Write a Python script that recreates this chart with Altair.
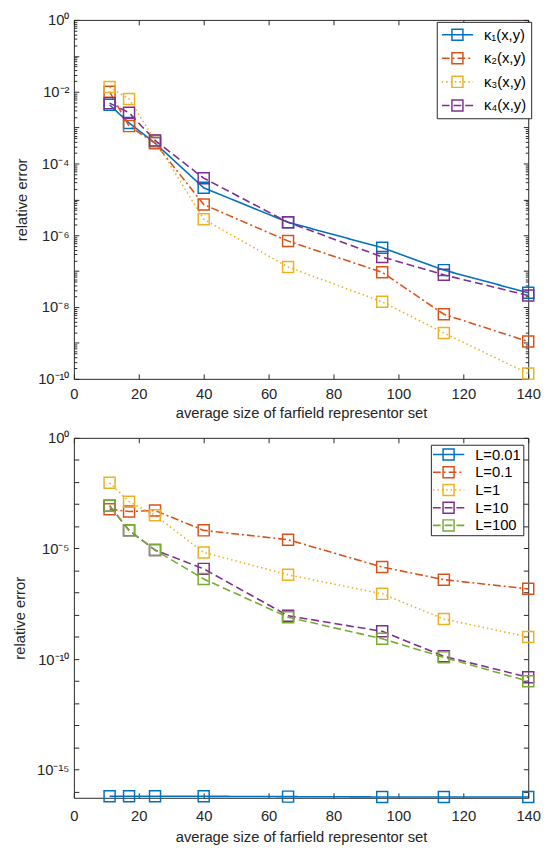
import altair as alt
import pandas as pd

# ---------------- data ----------------
x_vals = [11, 17, 25, 40, 66, 95, 114, 140]

top_names = ["κ₁(x,y)", "κ₂(x,y)", "κ₃(x,y)", "κ₄(x,y)"]
top_k1 = [4.3e-3, 1.35e-3, 3.7e-4, 2.1e-5, 2.3e-6, 4.5e-7, 1.07e-7, 2.5e-8]
top_k2 = [1.0e-2, 1.1e-3, 3.7e-4, 7.2e-6, 6.9e-7, 9.3e-8, 6.3e-9, 1.1e-9]
top_k3 = [1.35e-2, 6.3e-3, 4.4e-4, 2.8e-6, 1.3e-7, 1.4e-8, 1.9e-9, 1.4e-10]
top_k4 = [4.8e-3, 2.6e-3, 4.4e-4, 3.9e-5, 2.3e-6, 2.5e-7, 7.9e-8, 2.1e-8]

bot_names = ["L=0.01", "L=0.1", "L=1", "L=10", "L=100"]
bot_L001 = [6.4e-17, 6.4e-17, 6.3e-17, 6.3e-17, 6.1e-17, 5.9e-17, 5.9e-17, 5.9e-17]
bot_L01 = [6.0e-4, 4.7e-4, 5.2e-4, 6.6e-5, 2.5e-5, 1.45e-6, 3.9e-7, 1.5e-7]
bot_L1 = [9.3e-3, 1.3e-3, 3.2e-4, 6.6e-6, 6.5e-7, 8.9e-8, 6.5e-9, 1.0e-9]
bot_L10 = [8.5e-4, 6.6e-5, 8.5e-6, 1.2e-6, 9.1e-9, 1.8e-9, 1.35e-10, 1.5e-11]
bot_L100 = [8.5e-4, 6.6e-5, 8.5e-6, 4.2e-7, 7.8e-9, 8.3e-10, 1.2e-10, 1.0e-11]

x_ticks = [0, 20, 40, 60, 80, 100, 120, 140]
x_title = "average size of farfield representor set"
y_title = "relative error"

top_major_exp = [0, -1, -2, -3, -4, -5, -6, -7, -8, -9, -10]
top_label_exp = [0, -2, -4, -6, -8, -10]
top_label_txt = ["10⁰", "10⁻²", "10⁻⁴", "10⁻⁶", "10⁻⁸", "10⁻¹⁰"]
top_domain = [1e-10, 1.0]

bot_major_exp = list(range(0, -17, -1))
bot_label_exp = [0, -5, -10, -15]
bot_label_txt = ["10⁰", "10⁻⁵", "10⁻¹⁰", "10⁻¹⁵"]
bot_domain = [5.4e-17, 1.0]

colors = ["#0072BD", "#D95319", "#EDB120", "#7E2F8E", "#77AC30"]
dashes = [[1, 0], [8, 3, 2, 3], [1.5, 3], [8, 4], [8, 4]]

FONT = "Liberation Sans"
INK = "#262626"

# marker / legend symbol shapes (unit box -1..1, scaled by sqrt(size)/2)
SYM_SIZE = 196
SQUARE = "M-0.8,-0.8H0.8V0.8H-0.8Z"
LEG_LINE = "M-2.286,0H2.286"


def long_df(names, series):
    rows = []
    for n, s in zip(names, series):
        for xv, yv in zip(x_vals, s):
            rows.append({"x": xv, "y": yv, "series": n, "series_p": n + " "})
    return pd.DataFrame(rows)


def label_expr(exps, texts):
    expr = "''"
    for e, t in zip(exps, texts):
        expr = f"round(log(datum.value)/LN10) == {e} ? '{t}' : " + expr
    return expr


def panel(df, names, y_domain, major_exp, label_exp, label_txt, minor, lx, ly, pad, rowpad,
          w, h, lab_pad, tit_pad, clip_h):
    n = len(names)
    cols = colors[:n]
    dsh = dashes[:n]
    xs = alt.Scale(domain=[0, 140], nice=False)
    ys = alt.Scale(type="log", domain=y_domain, nice=False)
    major_vals = [10.0 ** e for e in major_exp]
    label_vals = [10.0 ** e for e in label_exp]
    base = alt.Chart(df)

    leg1 = alt.Legend(title=None, orient="none", legendX=lx, legendY=ly,
                      symbolType=LEG_LINE, symbolSize=SYM_SIZE, symbolStrokeWidth=1.6,
                      symbolOffset=8, labelOffset=19, labelFont=FONT, labelFontSize=15,
                      labelColor="#000000", padding=pad, rowPadding=rowpad, clipHeight=clip_h,
                      strokeColor=INK, fillColor="white", zindex=0)
    leg2 = alt.Legend(title=None, orient="none", legendX=lx, legendY=ly,
                      symbolType=SQUARE, symbolSize=SYM_SIZE, symbolStrokeWidth=1.5,
                      symbolFillColor="transparent", clipHeight=clip_h,
                      symbolOffset=8, labelOffset=19, labelFont=FONT, labelFontSize=15,
                      labelColor="transparent", padding=pad, rowPadding=rowpad, zindex=1)

    lines = base.mark_line(strokeWidth=1.6).encode(
        x=alt.X("x:Q", scale=xs, axis=alt.Axis(orient="bottom", values=x_ticks, ticks=False,
                                               domain=False, grid=False, labelPadding=lab_pad,
                                               title=x_title, titlePadding=tit_pad, labelFlush=False)),
        y=alt.Y("y:Q", scale=ys, axis=alt.Axis(orient="left", values=label_vals, ticks=False,
                                               domain=False, grid=False, labelPadding=5,
                                               labelExpr=label_expr(label_exp, label_txt),
                                               labelOverlap=False, title=y_title, titlePadding=9)),
        color=alt.Color("series:N", scale=alt.Scale(domain=names, range=cols), legend=leg1),
        strokeDash=alt.StrokeDash("series:N", scale=alt.Scale(domain=names, range=dsh), legend=leg1),
    )
    points = base.mark_point(shape=SQUARE, filled=False, size=SYM_SIZE, strokeWidth=1.5, opacity=1).encode(
        x=alt.X("x:Q", scale=xs, axis=alt.Axis(orient="bottom", values=x_ticks, labels=False,
                                               domain=False, grid=False, tickSize=5, offset=-5,
                                               title=None)),
        y=alt.Y("y:Q", scale=ys, axis=alt.Axis(orient="left", values=major_vals, labels=False,
                                               domain=False, grid=False, tickSize=5, offset=-5,
                                               title=None)),
        stroke=alt.Stroke("series_p:N", scale=alt.Scale(domain=[s + " " for s in names], range=cols),
                          legend=leg2),
    )
    ghost = base.mark_point(opacity=0).encode(
        x=alt.X("x:Q", scale=xs, axis=alt.Axis(orient="top", values=x_ticks, labels=False,
                                               domain=False, grid=False, tickSize=5, offset=-5,
                                               title=None)),
        y=alt.Y("y:Q", scale=ys, axis=alt.Axis(orient="right", values=major_vals, labels=False,
                                               domain=False, grid=False, tickSize=5, offset=-5,
                                               title=None)),
    )
    layers = [lines, points, ghost]
    if minor:
        for orient in ["left", "right"]:
            layers.append(base.mark_point(opacity=0).encode(
                x=alt.X("x:Q", scale=xs, axis=None),
                y=alt.Y("y:Q", scale=ys, axis=alt.Axis(orient=orient, values=minor, labels=False,
                                                       domain=False, grid=False, tickSize=3,
                                                       offset=-3, title=None)),
            ))
    return alt.layer(*layers).resolve_axis(x="independent", y="independent").properties(
        width=w, height=h)


top_minor = [k * 10.0 ** e for e in range(-10, 0) for k in range(2, 10)]

top_df = long_df(top_names, [top_k1, top_k2, top_k3, top_k4])
bot_df = long_df(bot_names, [bot_L001, bot_L01, bot_L1, bot_L10, bot_L100])

top = panel(top_df, top_names, top_domain, top_major_exp, top_label_exp, top_label_txt,
            top_minor, 369, 2, 5, 8, 462, 365, 8, 4, 16)
bot = panel(bot_df, bot_names, bot_domain, bot_major_exp, bot_label_exp, bot_label_txt,
            None, 363, 7, 2, 2, 462, 366, 11, 6, 16)

chart = alt.vconcat(
    top, bot, spacing=9,
    padding={"left": 4, "top": -3, "right": 0, "bottom": 0}
).resolve_scale(
    color="independent", strokeDash="independent", stroke="independent"
).resolve_legend(
    color="independent", strokeDash="independent", stroke="independent"
).configure_view(
    stroke=INK, strokeWidth=1
).configure_axis(
    labelFont=FONT, labelFontSize=15, labelColor=INK, titleFont=FONT, titleFontSize=15,
    titleFontWeight="normal", titleColor=INK, tickColor=INK, tickWidth=1
)

chart.save("out.html", embed_options={"renderer": "svg", "actions": False})
